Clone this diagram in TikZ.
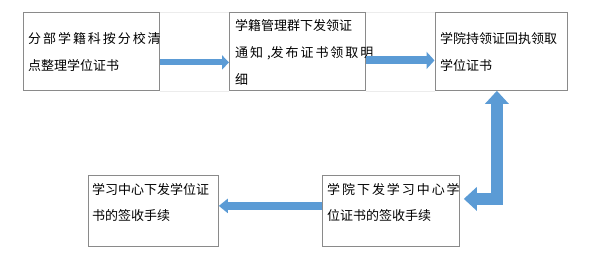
\documentclass[tikz,border=0pt]{standalone}
\usepackage{fontspec}
\setmainfont{Noto Sans CJK SC}
\usetikzlibrary{arrows.meta}
\definecolor{arrowblue}{HTML}{5B9BD5}
\definecolor{boxgray}{HTML}{8A8A8A}
\newcommand\spreadline[2]{\makebox[#1][s]{#2}}
\begin{document}
\begin{tikzpicture}[x=1pt,y=-1pt,
  box/.style={draw=boxgray, line width=0.8pt, inner sep=0pt, anchor=north west},
  txt/.style={anchor=base west, inner sep=0pt, font=\fontsize{13}{16}\selectfont},
  bigarrow/.style={draw=arrowblue, line join=miter},
  faint/.style={draw=gray!15, line width=0.5pt}
]
\useasboundingbox (0,0) rectangle (600,263);
% boxes
\node[box, minimum width=136pt, minimum height=78pt] (b1) at (23,12) {};
\node[box, minimum width=136pt, minimum height=78pt] (b2) at (229,12) {};
\node[box, minimum width=132pt, minimum height=78pt] (b3) at (434.5,12) {};
\node[box, minimum width=130pt, minimum height=71pt] (b4) at (88,175) {};
\node[box, minimum width=137pt, minimum height=71pt] (b5) at (322,175) {};
% faint group lines
\draw[faint] (b1.north east) -- (b2.north west);
\draw[faint] (b1.south east) -- (b2.south west);
\draw[faint] (b2.north east) -- (b3.north west);
\draw[faint] (b2.south east) -- (b3.south west);
% texts, one node per line
\node[txt] (t1a) at (28,43) {\spreadline{127pt}{分 部 学 籍 科 按 分 校 清}};
\node[txt] (t1b) at (28,70) {点整理学位证书};
\node[txt] (t2a) at (235,30) {学籍管理群下发领证};
\node[txt] (t2b) at (235,57) {\spreadline{125pt}{通 知 \hspace{2pt},发 布 证 书 领 取 明}};
\node[txt] (t2c) at (235,84) {细};
\node[txt] (t3a) at (440,43) {学院持领证回执领取};
\node[txt] (t3b) at (440,70) {学位证书};
\node[txt] (t4a) at (92,194) {学习中心下发学位证};
\node[txt] (t4b) at (92,220) {书的签收手续};
\node[txt] (t5a) at (327,194) {\spreadline{128pt}{学 院 下 发 学 习 中 心 学}};
\node[txt] (t5b) at (327,220) {位证书的签收手续};
% arrows
\draw[bigarrow, line width=6pt, -{Triangle[width=14pt,length=7pt]}]
  ([yshift=-11pt]b1.east) -- ([yshift=-11pt]b2.west);
\draw[bigarrow, line width=8pt, -{Triangle[width=17pt,length=8pt]}]
  ([yshift=-9pt]b2.east) -- ([yshift=-9pt]b3.west);
\draw[bigarrow, line width=11.5pt, {Triangle[width=23pt,length=13pt]}-{Triangle[width=23pt,length=13pt]}]
  ([xshift=4pt,yshift=12pt]b5.east) -| ([xshift=-4pt]b3.south);
\draw[bigarrow, line width=8pt, -{Triangle[width=14pt,length=9pt]}]
  ([yshift=5pt]b5.west) -- ([yshift=5pt]b4.east);
\end{tikzpicture}
\end{document}
